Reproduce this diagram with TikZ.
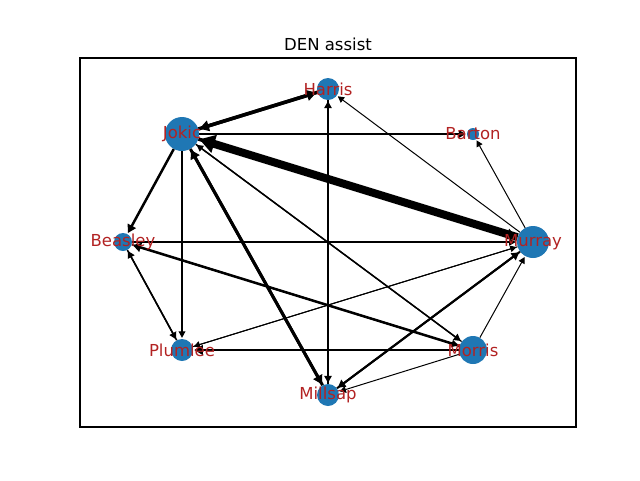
\documentclass[tikz,border=0pt]{standalone}
\usepackage{fontspec}
\setmainfont{DejaVu Sans}
\usetikzlibrary{arrows.meta}
\definecolor{nodeblue}{HTML}{1F77B4}
\definecolor{labred}{HTML}{B22222}
\tikzset{
  pt/.style={circle,fill=nodeblue,inner sep=0pt,minimum size=#1},
  lab/.style={text=labred,font=\fontsize{16.5}{19}\selectfont,inner sep=0pt},
  ed/.style={line width=#1,-{Triangle[length=5pt 1.3,width=5pt 1.6]},shorten >=1pt},
}
\begin{document}
\begin{tikzpicture}[x=1pt,y=-1pt]
\useasboundingbox (0,0) rectangle (640,480);
\draw[line width=1.1pt] (80,58) rectangle (576,427);
\node[font=\fontsize{16.5}{19}\selectfont] (title) at (328,44) {DEN assist};
% nodes
\node[pt=34pt] (jok) at (182,134) {};
\node[pt=22pt] (har) at (328,89) {};
\node[pt=12pt] (bar) at (473,134) {};
\node[pt=18pt] (bea) at (123,242) {};
\node[pt=32pt] (mur) at (533,242) {};
\node[pt=22pt] (plu) at (182,350) {};
\node[pt=28pt] (mor) at (473,350) {};
\node[pt=22pt] (mil) at (328,395) {};
% edges
\draw[ed=8pt] (mur) -- (jok);
\draw[ed=3.5pt] (jok) -- (mur);
\draw[ed=3.5pt] (jok) -- (har);
\draw[ed=3.5pt] (har) -- (jok);
\draw[ed=1.5pt] (jok) -- (bar);
\draw[ed=2.5pt] (jok) -- (bea);
\draw[ed=1.1pt] (jok) -- (plu);
\draw[ed=3pt] (jok) -- (mil);
\draw[ed=3pt] (mil) -- (jok);
\draw[ed=1.5pt] (jok) -- (mor);
\draw[ed=1.2pt] (mor) -- (jok);
\draw[ed=1pt] (mur) -- (har);
\draw[ed=1pt] (mur) -- (bar);
\draw[ed=1.3pt] (bea) -- (mur);
\draw[ed=1.5pt] (mil) -- (har);
\draw[ed=1.5pt] (har) -- (mil);
\draw[ed=2.5pt] (mor) -- (bea);
\draw[ed=1.5pt] (bea) -- (mor);
\draw[ed=1.5pt] (bea) -- (plu);
\draw[ed=1.5pt] (plu) -- (bea);
\draw[ed=1pt] (mur) -- (plu);
\draw[ed=2.8pt] (mor) -- (plu);
\draw[ed=2pt] (mur) -- (mil);
\draw[ed=2pt] (mil) -- (mur);
\draw[ed=1pt] (mor) -- (mil);
\draw[ed=1pt] (mor) -- (mur);
\draw[ed=1pt] (plu) -- (mur);
% labels
\node[lab] (ljok) at (182,134) {Jokic};
\node[lab] (lhar) at (328,89) {Harris};
\node[lab] (lbar) at (473,134) {Barton};
\node[lab] (lbea) at (123,242) {Beasley};
\node[lab] (lmur) at (533,242) {Murray};
\node[lab] (lplu) at (182,350) {Plumlee};
\node[lab] (lmor) at (473,350) {Morris};
\node[lab] (lmil) at (328,395) {Millsap};
\end{tikzpicture}
\end{document}
